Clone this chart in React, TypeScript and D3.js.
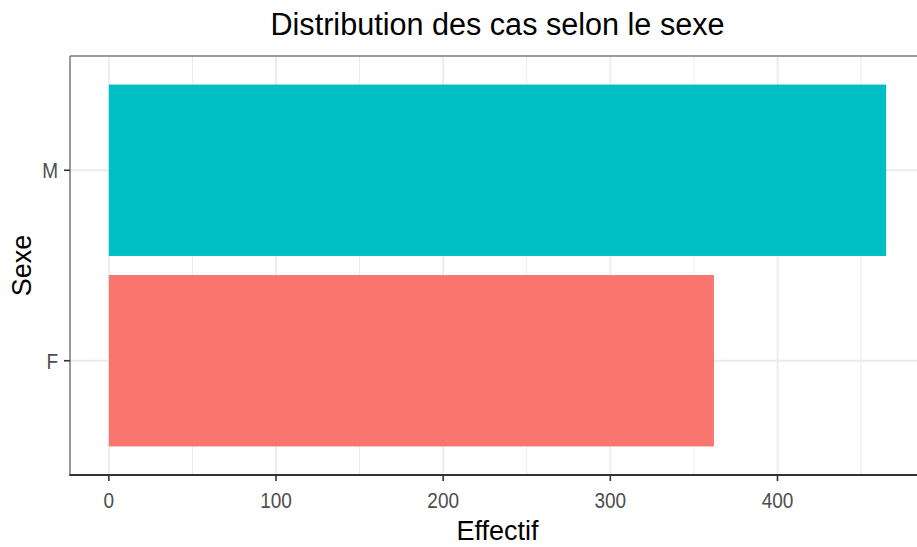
import React from "react";
import * as d3 from "d3";

const categories: string[] = ["M", "F"];
const values: number[] = [465, 362];
const colors: string[] = ["#00BFC4", "#F8766D"];
const xTicks: number[] = [0, 100, 200, 300, 400];
const xMinor: number[] = [50, 150, 250, 350, 450];
const title = "Distribution des cas selon le sexe";
const xTitle = "Effectif";
const yTitle = "Sexe";

const W = 917;
const H = 547;
const panel = { left: 70, right: 925, top: 56, bottom: 475 };
const font = "'Liberation Sans', Arial, sans-serif";

export default function App() {
  const maxV = d3.max(values) as number;
  const pad = maxV * 0.05;
  const x = d3.scaleLinear().domain([-pad, maxV + pad]).range([panel.left, panel.right]);
  const y = d3
    .scaleBand<string>()
    .domain(categories)
    .range([panel.top, panel.bottom])
    .paddingInner(0.1)
    .paddingOuter(0.15);
  const bw = y.bandwidth();

  return (
    <svg
      width={W}
      height={H}
      style={{ position: "absolute", left: 0, top: 0, background: "#fff" }}
      fontFamily={font}
    >
      <defs>
        <clipPath id="clipPanel">
          <rect x={panel.left} y={panel.top} width={panel.right - panel.left} height={panel.bottom - panel.top} />
        </clipPath>
      </defs>
      <rect x={0} y={0} width={W} height={H} fill="#fff" />
      <g clipPath="url(#clipPanel)">
        {xMinor.map((t) => (
          <line key={"mn" + t} x1={x(t)} x2={x(t)} y1={panel.top} y2={panel.bottom} stroke="#EBEBEB" strokeWidth={1} />
        ))}
        {xTicks.map((t) => (
          <line key={"mj" + t} x1={x(t)} x2={x(t)} y1={panel.top} y2={panel.bottom} stroke="#EBEBEB" strokeWidth={1.8} />
        ))}
        {categories.map((c) => (
          <line
            key={"yg" + c}
            x1={panel.left}
            x2={panel.right}
            y1={(y(c) as number) + bw / 2}
            y2={(y(c) as number) + bw / 2}
            stroke="#EBEBEB"
            strokeWidth={1.8}
          />
        ))}
        {categories.map((c, i) => (
          <rect
            key={"bar" + c}
            x={x(0)}
            y={y(c) as number}
            width={x(values[i]) - x(0)}
            height={bw}
            fill={colors[i]}
          />
        ))}
      </g>
      {/* panel border */}
      <line x1={panel.left} x2={panel.right} y1={panel.top} y2={panel.top} stroke="#7a7a7a" strokeWidth={1.5} />
      <line x1={panel.left} x2={panel.left} y1={panel.top} y2={panel.bottom} stroke="#7a7a7a" strokeWidth={1.5} />
      <line x1={panel.left - 0.7} x2={panel.right} y1={panel.bottom} y2={panel.bottom} stroke="#333" strokeWidth={1.8} />
      {/* x ticks */}
      {xTicks.map((t) => (
        <g key={"xt" + t}>
          <line x1={x(t)} x2={x(t)} y1={panel.bottom} y2={panel.bottom + 6} stroke="#333" strokeWidth={1.6} />
          <text
            transform={`translate(${x(t)}, ${panel.bottom + 33}) scale(1, 1.15)`}
            textAnchor="middle"
            fontSize={19}
            fill="#4D4D4D"
          >
            {t}
          </text>
        </g>
      ))}
      {/* y ticks */}
      {categories.map((c) => {
        const cy = (y(c) as number) + bw / 2;
        return (
          <g key={"yt" + c}>
            <line x1={panel.left - 6} x2={panel.left} y1={cy} y2={cy} stroke="#333" strokeWidth={1.6} />
            <text
              transform={`translate(${panel.left - 12}, ${cy + 8}) scale(1, 1.15)`}
              textAnchor="end"
              fontSize={19}
              fill="#4D4D4D"
            >
              {c}
            </text>
          </g>
        );
      })}
      <text x={(panel.left + panel.right) / 2} y={35} textAnchor="middle" fontSize={30.6} fill="#000">
        {title}
      </text>
      <text x={(panel.left + panel.right) / 2} y={540} textAnchor="middle" fontSize={27} fill="#000">
        {xTitle}
      </text>
      <text
        transform={`translate(31, ${(panel.top + panel.bottom) / 2}) rotate(-90)`}
        textAnchor="middle"
        fontSize={27}
        fill="#000"
      >
        {yTitle}
      </text>
    </svg>
  );
}
